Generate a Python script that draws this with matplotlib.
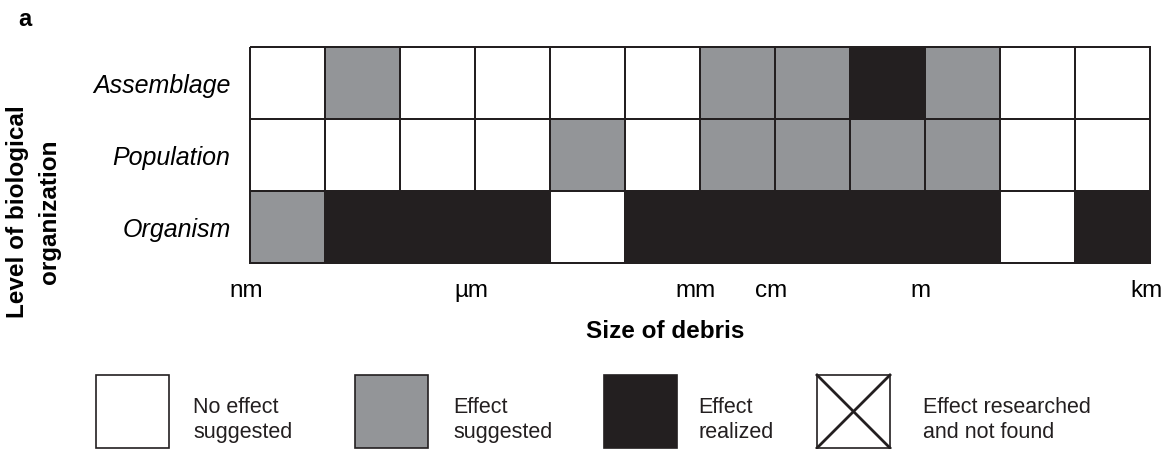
"""Effect of debris size on levels of biological organization (panel a)."""

from matplotlib import pyplot
from matplotlib.colors import ListedColormap
from matplotlib.patches import Rectangle
from matplotlib.transforms import ScaledTranslation
import numpy as np

# 0 = no effect suggested, 1 = effect suggested, 2 = effect realized
levels = ['Assemblage', 'Population', 'Organism']
assemblage = [0, 1, 0, 0, 0, 0, 1, 1, 2, 1, 0, 0]
population = [0, 0, 0, 0, 1, 0, 1, 1, 1, 1, 0, 0]
organism = [1, 2, 2, 2, 0, 2, 2, 2, 2, 2, 0, 2]
size_ticks = [0, 3, 6, 7, 9, 12]
size_labels = ['nm', 'µm', 'mm', 'cm', 'm', 'km']
legend_labels = ['No effect\nsuggested', 'Effect\nsuggested',
                 'Effect\nrealized', 'Effect researched\nand not found']

white, grey, black = '#ffffff', '#939598', '#231f20'
cmap = ListedColormap([white, grey, black])

pyplot.rc('font', family='Liberation Sans')
fig = pyplot.figure(figsize=(11.7, 4.49), dpi=100)
W, H = 1170, 449
ax = fig.add_axes([250 / W, 1 - 263 / H, 900 / W, 216 / H])

grid = np.array([assemblage, population, organism])
ax.pcolormesh(grid, cmap=cmap, vmin=-0.5, vmax=2.5,
              edgecolors=black, linewidth=1.2, clip_on=False)
ax.set_xlim(0, grid.shape[1])
ax.set_ylim(grid.shape[0], 0)
for s in ax.spines.values():
    s.set_visible(False)

ax.set_yticks(np.arange(len(levels)) + 0.5)
ax.set_yticklabels(levels, fontstyle='italic', fontsize=18)
ax.set_xticks(size_ticks)
ax.set_xticklabels(size_labels, fontsize=17.5)
ax.tick_params(axis='both', length=0)
ax.tick_params(axis='x', pad=24.5)
ax.tick_params(axis='y', pad=14)
# Align the size labels on their baseline, nudged a little left.
shift = ScaledTranslation(-4 / 100, 0, fig.dpi_scale_trans)
for lab in ax.get_xticklabels():
    lab.set_verticalalignment('baseline')
    lab.set_transform(lab.get_transform() + shift)

fig.text(665 / W, 1 - 331 / H, 'Size of debris', fontsize=17.5,
         fontweight='bold', ha='center', va='center')
fig.text(34 / W, 1 - 212 / H, 'Level of biological\norganization',
         fontsize=17.5, fontweight='bold', rotation=90, ha='center',
         va='center', multialignment='center', linespacing=1.5)
fig.text(25 / W, 1 - 19 / H, 'a', fontsize=17, fontweight='bold',
         ha='center', va='center')

# Key below the grid, drawn in pixel space on an overlay.
lax = fig.add_axes([0, 0, 1, 1])
lax.set_xlim(0, W)
lax.set_ylim(H, 0)
lax.axis('off')
box_x = [96, 355, 604, 817]
text_x = [193, 453, 698, 923]
fills = [white, grey, black, white]
for bx, tx, fc, lab in zip(box_x, text_x, fills, legend_labels):
    lax.add_patch(Rectangle((bx, 375), 73, 73, facecolor=fc,
                            edgecolor=black, linewidth=1.2))
    lax.text(tx, 420, lab, fontsize=15.5, ha='left', va='center',
             linespacing=1.2, color='#231f20')
# Cross in the last key box.
bx = box_x[3]
lax.plot([bx, bx + 73], [375, 448], color=black, linewidth=2.0)
lax.plot([bx, bx + 73], [448, 375], color=black, linewidth=2.0)

fig.savefig('out.png', dpi=100)
